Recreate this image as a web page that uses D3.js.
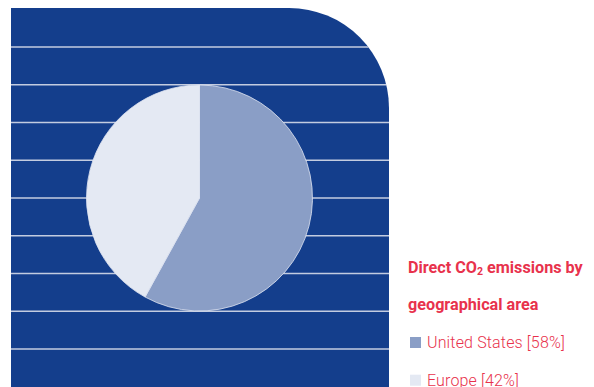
<!DOCTYPE html>
<html>
<head>
<meta charset="utf-8">
<script src="https://cdn.jsdelivr.net/npm/d3@7/dist/d3.min.js"></script>
<style>
  html, body { margin: 0; padding: 0; background: #ffffff; }
  svg { display: block; }
</style>
</head>
<body>
<svg id="chart" width="594" height="387"></svg>
<script>
// Direct CO2 emissions split by geographical area
const categories = ["United States", "Europe"];
const shares = [58, 42];
const sliceColors = ["#8a9ec6", "#e4e9f3"];
const titleLines = [["Direct CO", "2", " emissions by"], ["geographical area"]];

const svg = d3.select("#chart");

// Backdrop panel: square on three corners, rounded top-right corner
const panel = { x0: 11, y0: 8, x1: 389, y1: 390, r: 100 };
const panelPath = d3.path();
panelPath.moveTo(panel.x0, panel.y0);
panelPath.lineTo(panel.x1 - panel.r, panel.y0);
panelPath.arcTo(panel.x1, panel.y0, panel.x1, panel.y0 + panel.r, panel.r);
panelPath.lineTo(panel.x1, panel.y1);
panelPath.lineTo(panel.x0, panel.y1);
panelPath.closePath();

svg.append("clipPath").attr("id", "panel-clip")
  .append("path").attr("d", panelPath.toString());

svg.append("path")
  .attr("d", panelPath.toString())
  .attr("fill", "#143e8c");

// Horizontal rules across the panel, evenly spaced
const ruleStep = 37.75;
const rules = d3.range(9).map(i => 47 + i * ruleStep);
svg.append("g")
  .attr("clip-path", "url(#panel-clip)")
  .selectAll("line")
  .data(rules)
  .join("line")
  .attr("x1", panel.x0)
  .attr("x2", panel.x1)
  .attr("y1", d => d)
  .attr("y2", d => d)
  .attr("stroke", "#c3cce0")
  .attr("stroke-width", 1.3);

// Pie, starting at 12 o'clock and running clockwise
const cx = 199.5, cy = 198, radius = 113;
const pie = d3.pie().sort(null).value(d => d.value);
const arc = d3.arc().innerRadius(0).outerRadius(radius);
const data = categories.map((c, i) => ({ name: c, value: shares[i], color: sliceColors[i] }));

svg.append("g")
  .attr("transform", `translate(${cx},${cy})`)
  .selectAll("path")
  .data(pie(data))
  .join("path")
  .attr("d", arc)
  .attr("fill", d => d.data.color)
  .attr("stroke", "#dfe5f1")
  .attr("stroke-width", 0.8);

// Title and legend
const red = "#e8324c";
const textX = 408;
const lineStep = 37.7;

const title = svg.append("g");
titleLines.forEach((parts, li) => {
  const t = title.append("text")
    .attr("x", textX)
    .attr("y", 272.5 + li * lineStep)
    .attr("fill", red)
    .attr("font-family", "Roboto, 'Noto Sans', sans-serif")
    .attr("font-weight", 700)
    .attr("font-size", 16.2);
  if (parts.length === 3) {
    t.append("tspan").text(parts[0]);
    t.append("tspan").attr("font-size", 10.5).attr("dy", 2).text(parts[1]);
    t.append("tspan").attr("dy", -2).text(parts[2]);
  } else {
    t.text(parts[0]);
  }
});

const legend = svg.append("g")
  .selectAll("g")
  .data(data)
  .join("g")
  .attr("transform", (d, i) => `translate(${textX + 2},${348 + i * lineStep})`);

legend.append("rect")
  .attr("x", 0)
  .attr("y", -11)
  .attr("width", 11)
  .attr("height", 11)
  .attr("fill", d => d.color);

legend.append("text")
  .attr("x", 17)
  .attr("y", 0)
  .attr("fill", red)
  .attr("font-family", "Roboto, 'Noto Sans', sans-serif")
  .attr("font-weight", 300)
  .attr("font-size", 16)
  .attr("letter-spacing", 0.15)
  .text(d => `${d.name} [${d.value}%]`);
</script>
</body>
</html>
